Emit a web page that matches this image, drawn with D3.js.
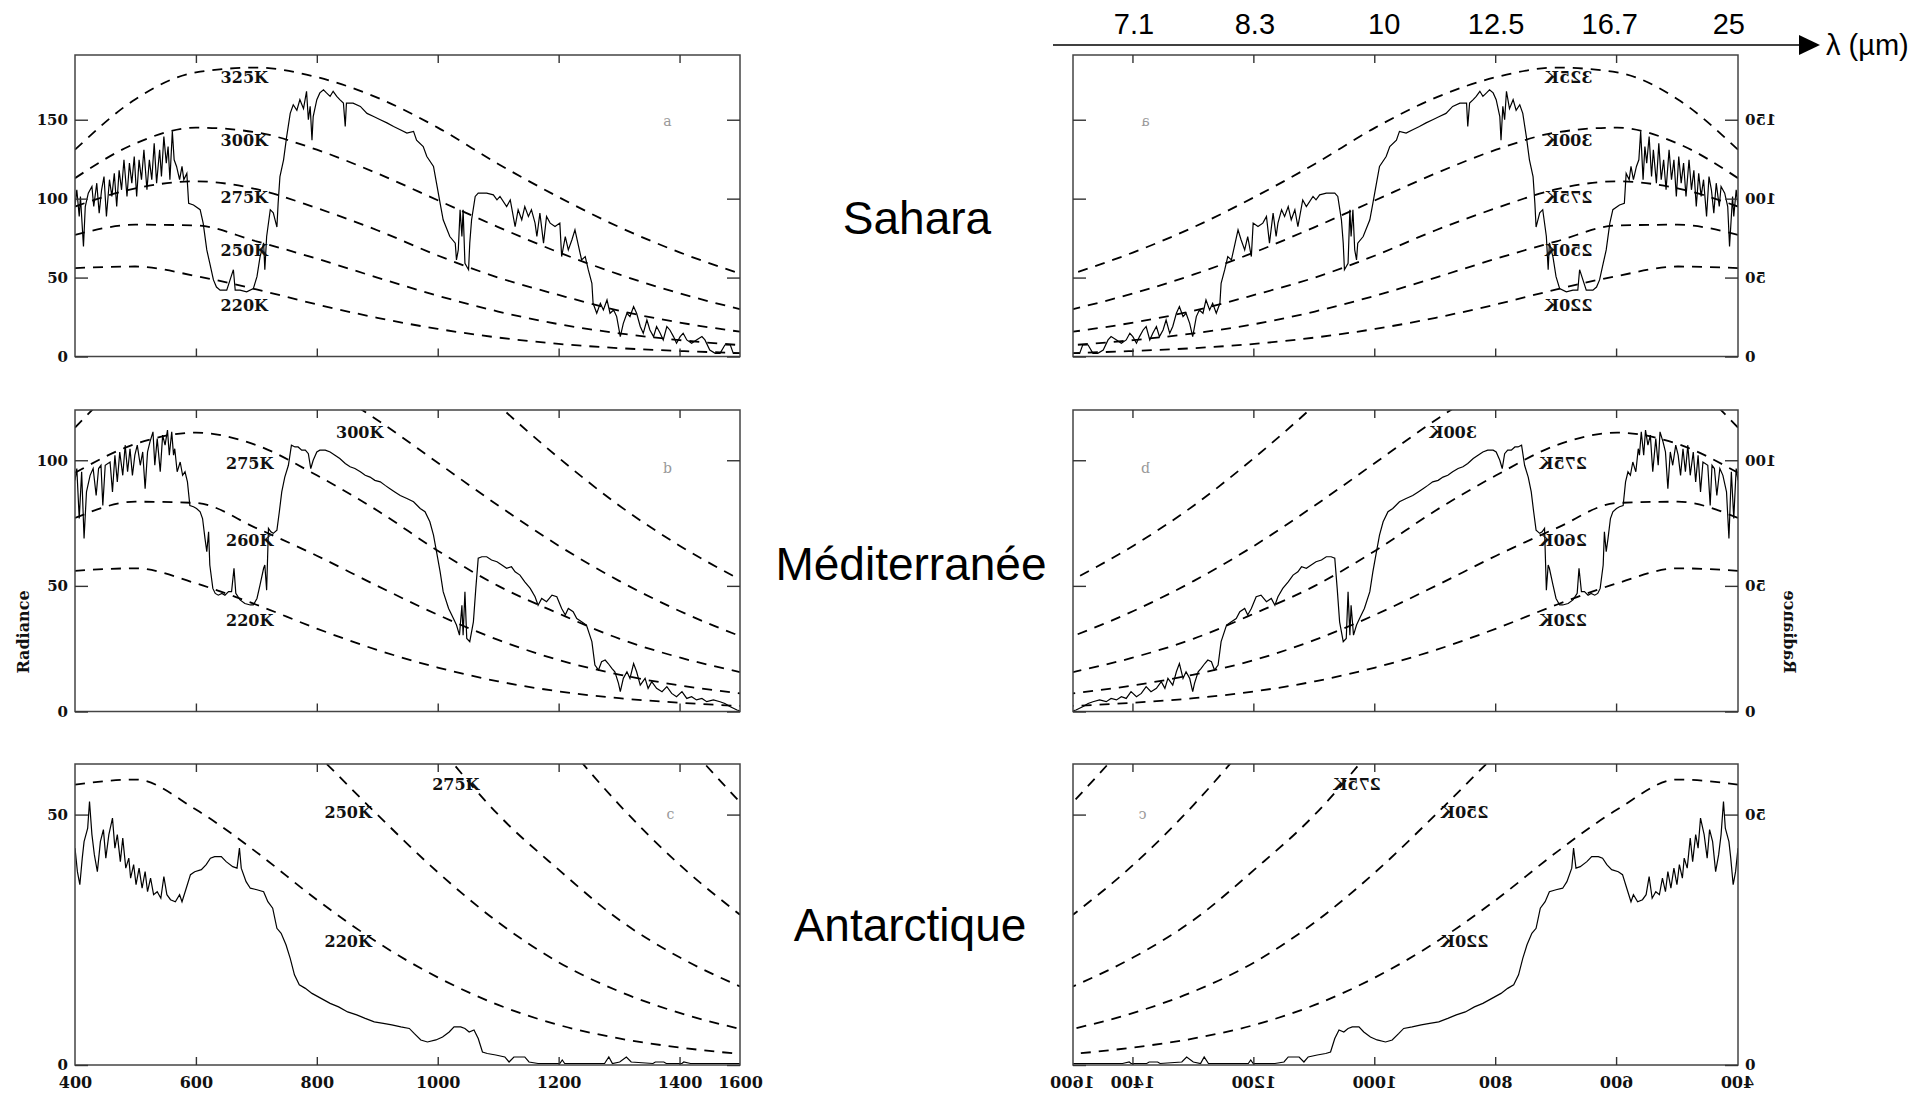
<!DOCTYPE html>
<html>
<head>
<meta charset="utf-8">
<script src="https://cdn.jsdelivr.net/npm/d3@7"></script>
<style>
body{margin:0;background:#fff;}
</style>
</head>
<body>
<div class="content"></div>
<script>
var width = 1932;
var height = 1095;

// blackbody reference curves (wavenumber cm-1 -> radiance)
var bbNu = [400,500,600,700,800,900,1000,1100,1200,1300,1400,1500];
var bb325 = [131,163,180,183,177,164,145,122,101,82,66,52.5];
var bb300 = [113,135,145,142,131,116,99,82,66,52,40,30];
var bb275 = [95,106.5,111,106,94,80,64,50,39,29,21.5,15.7];
var bb250 = [77,83.5,83,73,62,50,38.5,28.5,20.5,14.7,10.4,7.2];
var bb220 = [56,57,51,42.5,33,24.5,17.5,12,8,5.3,3.5,2.2];

// measured spectra [wavenumber, radiance]
var sahara = [[400,95],[403,105.6],[407,88.7],[409,101.4],[414,69.7],[417,95],[422,103.5],[428,107.7],[431,95],[436,109.8],[440,90.8],[444,105.6],[448,114],[452,88.7],[457,112],[461,101.4],[465,116],[469,95],[473,118],[477,105.6],[481,124.6],[486,101.4],[490,122.5],[494,109.8],[498,126.7],[502,101.4],[506,124.6],[510,112],[514,131],[519,105.6],[523,124.6],[527,112],[531,135],[535,109.8],[540,131],[543,114],[547,139.4],[551,122.5],[554,133],[557,112],[561,142.6],[564,124.6],[568,120.4],[573,112],[577,120.4],[580,112],[585,116],[588,97],[596,96],[607,93],[612,84.5],[618,67.5],[623,59],[629,48.5],[634,44],[640,42],[651,42],[662,55],[665,42],[673,42],[684,41],[695,43],[701,50.6],[706,63],[712,72],[714,55],[717,76],[723,93],[728,91],[734,82],[736,97],[739,114],[745,124.6],[750,139],[756,154],[761,159.5],[767,156],[772,162.7],[778,157],[783,168],[786,150],[789,158.5],[792,137],[794,152],[800,162.7],[805,167],[811,169],[816,167],[822,164.8],[827,168],[833,164.8],[838,162.7],[844,160.5],[847,145.7],[849,160.5],[860,160.5],[872,158.4],[883,154],[894,152],[905,150],[916,148],[927,145.7],[938,143.6],[949,141.5],[960,142.6],[965,137],[976,133],[982,126.7],[993,120.4],[998,109.8],[1004,97],[1009,86.6],[1020,76],[1029,71.8],[1031,61.2],[1034,67.5],[1037,93],[1040,76],[1042,93],[1045,59],[1051,55],[1053,71.8],[1056,86.6],[1062,101.4],[1067,103.5],[1081,103.5],[1092,102.4],[1098,99.2],[1103,101.4],[1114,95],[1120,99.2],[1128,82.3],[1133,93],[1139,86.6],[1144,95],[1150,88.7],[1155,93],[1161,84.5],[1164,76],[1169,90.8],[1175,71.8],[1180,88.7],[1186,84.5],[1194,82.3],[1202,84.5],[1205,63.3],[1211,76],[1216,67.5],[1222,74],[1227,80.2],[1233,69.7],[1238,61.2],[1244,63.3],[1249,55],[1255,46.4],[1257,33.7],[1263,27.4],[1269,33.7],[1274,29.5],[1280,35.8],[1285,27.4],[1291,29.5],[1296,25.3],[1302,12.6],[1307,21],[1313,27.4],[1318,25.3],[1324,31.6],[1329,27.4],[1335,19],[1340,14.7],[1346,23.1],[1351,16.8],[1357,12.6],[1362,19],[1368,14.7],[1373,10.5],[1379,19],[1384,16.8],[1390,12.6],[1395,8.4],[1401,12.6],[1406,14.7],[1412,10.5],[1420,8.4],[1428,10.5],[1437,12.6],[1442,10.5],[1450,4.1],[1459,2],[1467,2],[1475,7.3],[1484,7.3],[1489,2],[1500,2]];

var mediterranee = [[400,92],[403,96.7],[407,76.8],[411,95.4],[415,68.9],[419,87.4],[425,94],[430,96.7],[435,86],[439,96.7],[443,98],[446,82],[450,98],[458,99.3],[462,87.4],[466,102],[470,91.4],[474,103.3],[479,94],[483,106],[487,95.4],[491,104.6],[495,94],[499,102],[503,106],[508,98],[512,103.3],[516,88.7],[520,103.3],[524,107.3],[529,111.3],[532,98],[536,108.6],[541,95.4],[545,110],[549,106],[553,112],[556,102],[560,111.3],[563,102],[565,104.6],[569,95.4],[574,99.3],[578,94],[582,95.4],[586,91.4],[590,82],[596,81.5],[601,80.8],[607,79.5],[611,76.8],[615,68.9],[618,63.6],[621,71.5],[623,58.3],[628,49],[632,47],[637,46.3],[643,47],[648,46.3],[654,47.7],[659,47.7],[663,57],[666,47],[673,44.4],[681,43],[690,42.4],[695,42.4],[701,45],[706,50.3],[712,57],[714,58.3],[717,48.3],[720,72.9],[724,71.5],[728,70.9],[734,72.2],[738,79.5],[742,87.4],[747,93.3],[753,98],[758,106],[764,105.3],[769,105.3],[775,104],[781,104],[786,102.6],[790,96.7],[794,100],[800,103.3],[805,104],[814,104],[822,103.3],[830,102],[838,100.7],[847,98.7],[855,97.4],[863,96.7],[872,95.4],[880,94],[888,93.3],[896,92],[905,91.4],[913,90],[921,88.7],[929,87.4],[938,86],[949,84.8],[960,83.5],[971,80.8],[979,79.5],[987,75.5],[993,70.2],[998,63.6],[1004,55.6],[1009,47.7],[1018,41],[1026,37],[1031,34.4],[1036,30.4],[1040,42.3],[1042,30.4],[1045,47.7],[1048,29.1],[1053,27.8],[1059,35.7],[1063,49],[1067,61],[1073,61.6],[1081,61.6],[1089,60.3],[1098,59.6],[1106,58.3],[1114,57],[1122,57.6],[1128,55.6],[1136,54.3],[1144,51.6],[1153,49],[1161,45.7],[1166,42.3],[1172,45],[1180,43.7],[1189,46.3],[1197,45.7],[1205,41],[1211,38.4],[1216,41],[1224,39.7],[1230,37],[1238,35.7],[1246,34.4],[1255,27.8],[1260,18.5],[1266,16.5],[1271,19.8],[1277,20.5],[1282,19.1],[1288,17.2],[1293,15.8],[1299,11.2],[1302,7.9],[1307,13.2],[1313,15.8],[1318,13.2],[1324,19.1],[1329,15.8],[1335,10.5],[1343,13.2],[1348,9.2],[1354,11.9],[1362,9.2],[1371,7.9],[1379,9.9],[1387,7.2],[1395,5.9],[1404,7.9],[1412,5.2],[1420,5.9],[1428,4.6],[1437,5.2],[1445,3.9],[1456,4.6],[1467,3.9],[1475,3.2],[1484,1.9],[1495,0.6],[1500,0.3]];

var antarctique = [[400,43.3],[404,38.6],[408,36],[412,41.3],[415,44.6],[421,47.3],[424,52.6],[428,46],[432,42],[437,38.6],[442,44.6],[447,47],[451,41.3],[456,46],[462,49.3],[466,43.3],[470,46],[475,40.6],[479,45.3],[484,39.3],[489,41.3],[492,37.3],[497,40],[501,36],[506,39.3],[511,35.3],[516,38.6],[520,34.6],[525,37.3],[530,34],[536,34.6],[542,33.3],[547,37.6],[552,34],[558,33],[566,32.6],[573,34],[577,32.6],[584,35.3],[591,38],[598,38.6],[609,39],[617,40],[624,41.3],[631,41.6],[642,41.6],[650,40.6],[661,39.6],[668,39.3],[672,43.3],[675,39.3],[683,36.6],[690,35.3],[701,35],[712,34.6],[719,32.6],[727,31.3],[734,27.3],[741,26.3],[749,24],[756,21.3],[763,18],[771,16],[781,15.3],[792,14.3],[807,13.3],[822,12.3],[836,11.6],[851,10.6],[866,10],[880,9.3],[895,8.6],[910,8.3],[924,8],[939,7.6],[953,7.3],[961,6.3],[972,5],[983,4.6],[997,5],[1008,5.6],[1019,6.6],[1027,7.6],[1038,7.6],[1045,7.3],[1052,6.6],[1060,7],[1067,5.3],[1074,2.6],[1082,2.3],[1096,2],[1111,1.6],[1118,0.6],[1126,1.6],[1144,1.6],[1151,0.6],[1166,0.3],[1202,0.3],[1206,1],[1210,0.3],[1276,0.3],[1283,1.6],[1289,0.3],[1301,0.6],[1312,1.6],[1320,0.6],[1356,0.3],[1360,0.6],[1374,0.6],[1378,0.3],[1404,0.3],[1407,0.6],[1418,0.3],[1500,0.3]];

// curve labels [text, wavenumber, radiance]
var labelsA = [["325K",680,177],["300K",680,137],["275K",680,101],["250K",680,67.5],["220K",680,32.5]];
var labelsB = [["300K",871,111],["275K",689,99],["260K",689,68],["220K",689,36.4]];
var labelsC = [["275K",1030,56],["250K",852,50.5],["220K",852,24.8]];

var xTicks = [400,600,800,1000,1200,1400,1500];
var xTickLabels = ["400","600","800","1000","1200","1400","1600"];
// where the wavelength labels sit, in wavenumber
var lambdaNu = [1400,1200,986,801,613,416];
var lambdaLabels = ["7.1","8.3","10","12.5","16.7","25"];
var regions = ["Sahara","Méditerranée","Antarctique"];

var bbCurves = [bb325,bb300,bb275,bb250,bb220];
var panels = [
  {spec: sahara, labels: labelsA, yMax: 191, yTicks: [0,50,100,150], letter: "a", letterAt: [1380,149], top: 55, bottom: 356.5, title: [917,234]},
  {spec: mediterranee, labels: labelsB, yMax: 120, yTicks: [0,50,100], letter: "b", letterAt: [1380,97], top: 410, bottom: 711.5, title: [911,580]},
  {spec: antarctique, labels: labelsC, yMax: 60.1, yTicks: [0,50], letter: "c", letterAt: [1385,50], top: 764, bottom: 1065, title: [910,941]}
];

var x = d3.scaleLinear().domain([400,1500]).range([75,740]);
var mirror = 1813;
var serif = "DejaVu Serif";

var svg = d3.select(".content").append("svg").attr("width", width).attr("height", height)
  .style("display","block").style("background","#fff");

var defs = svg.append("defs");
panels.forEach(function(p, i){
  defs.append("clipPath").attr("id","clip"+i).append("rect")
    .attr("x", x.range()[0]).attr("y", p.top)
    .attr("width", x.range()[1]-x.range()[0]).attr("height", p.bottom-p.top);
});

function noDomain(g){ g.select(".domain").remove(); }

function drawColumn(g){
  panels.forEach(function(p, i){
    var y = d3.scaleLinear().domain([0,p.yMax]).range([p.bottom,p.top]);
    var pg = g.append("g");
    var cg = pg.append("g").attr("clip-path","url(#clip"+i+")");

    var bbLine = d3.line().x(function(d,j){ return x(bbNu[j]); }).y(function(d){ return y(d); })
      .curve(d3.curveMonotoneX);
    cg.selectAll("path.bb").data(bbCurves).enter().append("path")
      .attr("class","bb").attr("d", bbLine)
      .attr("fill","none").attr("stroke","#000").attr("stroke-width",1.8)
      .attr("stroke-dasharray","10,8");

    var specLine = d3.line().x(function(d){ return x(d[0]); }).y(function(d){ return y(d[1]); });
    cg.append("path").datum(p.spec).attr("d", specLine)
      .attr("fill","none").attr("stroke","#000").attr("stroke-width",1.2);

    // frame
    pg.append("rect").attr("x", x.range()[0]).attr("y", p.top)
      .attr("width", x.range()[1]-x.range()[0]).attr("height", p.bottom-p.top)
      .attr("fill","none").attr("stroke","#444").attr("stroke-width",1.5);

    var inner = [600,800,1000,1200,1400];
    pg.append("g").attr("transform","translate(0,"+p.bottom+")")
      .call(d3.axisBottom(x).tickValues(inner).tickSize(-8).tickFormat("")).call(noDomain);
    pg.append("g").attr("transform","translate(0,"+p.top+")")
      .call(d3.axisTop(x).tickValues(inner).tickSize(-8).tickFormat("")).call(noDomain);
    var yl = pg.append("g").attr("transform","translate("+x.range()[0]+",0)")
      .call(d3.axisLeft(y).tickValues(p.yTicks).tickSize(-13).tickPadding(7)).call(noDomain);
    yl.selectAll("text").attr("font-family", serif).attr("font-weight","bold")
      .attr("font-size",15).attr("fill","#111");
    pg.append("g").attr("transform","translate("+x.range()[1]+",0)")
      .call(d3.axisRight(y).tickValues(p.yTicks).tickSize(-13).tickFormat("")).call(noDomain);
    pg.selectAll(".tick line").attr("stroke","#333").attr("stroke-width",1.4);

    // temperature labels
    pg.selectAll("text.tl").data(p.labels).enter().append("text")
      .attr("class","tl")
      .attr("x", function(d){ return x(d[1]); })
      .attr("y", function(d){ return y(d[2]); })
      .attr("dy","0.36em").attr("text-anchor","middle")
      .attr("font-family", serif).attr("font-weight","bold").attr("font-size",16)
      .attr("fill","#111")
      .text(function(d){ return d[0]; });

    pg.append("text").attr("x", x(p.letterAt[0])).attr("y", y(p.letterAt[1]))
      .attr("dy","0.35em").attr("text-anchor","middle")
      .attr("font-family", serif).attr("font-size",14).attr("fill","#999")
      .text(p.letter);

    if (i === panels.length-1) {
      var xa = pg.append("g").attr("transform","translate(0,"+p.bottom+")")
        .call(d3.axisBottom(x).tickValues(xTicks).tickSize(0).tickPadding(12)
          .tickFormat(function(d,k){ return xTickLabels[k]; })).call(noDomain);
      xa.selectAll("text").attr("font-family", serif).attr("font-weight","bold")
        .attr("font-size",16).attr("fill","#111");
    }
  });

  g.append("text").attr("transform","translate(29,632) rotate(-90)")
    .attr("text-anchor","middle").attr("font-family", serif).attr("font-weight","bold")
    .attr("font-size",16).attr("fill","#111").text("Radiance");
}

drawColumn(svg.append("g"));
drawColumn(svg.append("g").attr("transform","translate("+mirror+",0) scale(-1,1)"));

// region names
svg.selectAll("text.region").data(regions).enter().append("text")
  .attr("class","region")
  .attr("x", function(d,i){ return panels[i].title[0]; })
  .attr("y", function(d,i){ return panels[i].title[1]; })
  .attr("text-anchor","middle").attr("font-family","Liberation Sans, Arial, sans-serif")
  .attr("font-size",46).attr("fill","#000")
  .text(function(d){ return d; });

// wavelength axis over the mirrored column
var xm = d3.scaleLinear().domain(x.domain()).range([mirror-x.range()[0], mirror-x.range()[1]]);
var la = svg.append("g").attr("transform","translate(0,45)")
  .call(d3.axisTop(xm).tickValues(lambdaNu).tickSize(0).tickPadding(11)
    .tickFormat(function(d,k){ return lambdaLabels[k]; })).call(noDomain);
la.selectAll("text").attr("font-family","Liberation Sans, Arial, sans-serif")
  .attr("font-size",29).attr("fill","#000");
svg.append("line").attr("x1",1053).attr("x2",1802).attr("y1",45).attr("y2",45)
  .attr("stroke","#000").attr("stroke-width",1.5);
svg.append("path").attr("d","M1799,35L1820,45L1799,55Z").attr("fill","#000");
svg.append("text").attr("x",1826).attr("y",55)
  .attr("font-family","Liberation Sans, Arial, sans-serif").attr("font-size",29)
  .text("λ (µm)");
</script>
</body>
</html>
